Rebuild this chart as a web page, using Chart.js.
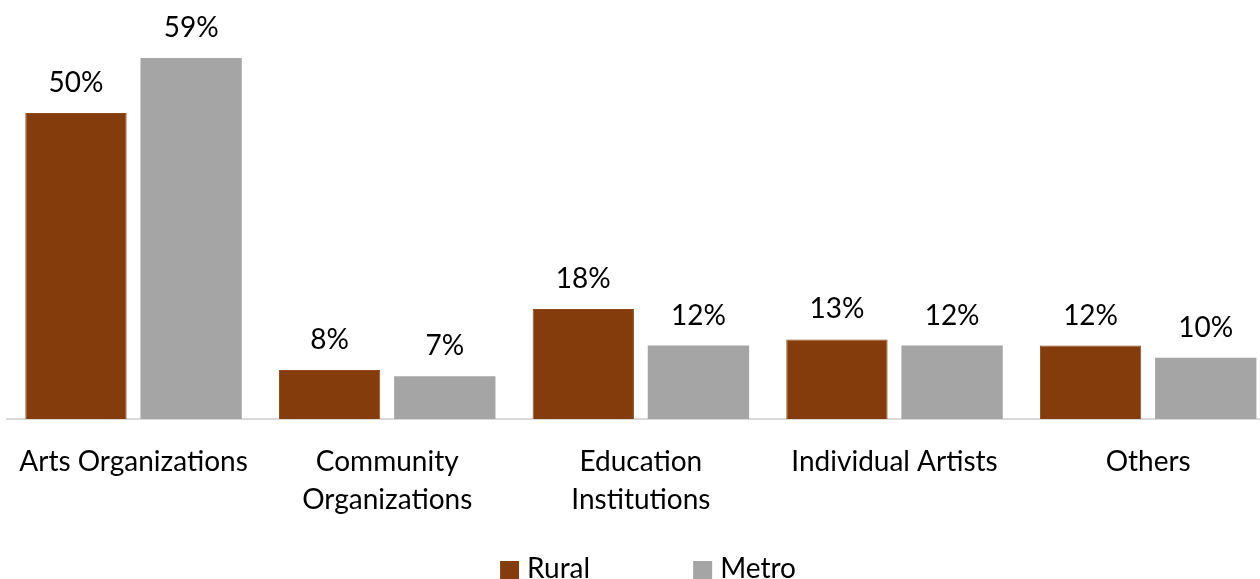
<!DOCTYPE html>
<html>
<head>
<meta charset="utf-8">
<script src="https://cdn.jsdelivr.net/npm/chart.js@4.4.1/dist/chart.umd.min.js"></script>
<style>
  html, body { margin: 0; padding: 0; background: #fff; }
  .frame { width: 1260px; height: 579px; overflow: hidden; position: relative; }
  .box { width: 1280px; height: 579px; position: absolute; left: -5px; top: 0; }
</style>
</head>
<body>
<div class="frame">
  <div class="box"><canvas id="myChart"></canvas></div>
</div>
<script>
const categories = [
  'Arts Organizations',
  ['Community', 'Organizations'],
  ['Education', 'Institutions'],
  'Individual Artists',
  'Others'
]
const rural = [50, 8, 18, 13, 12]
const metro = [59, 7, 12, 12, 10]

const FONT = 'Lato, "Liberation Sans", sans-serif'
const RURAL_COLOR = '#843C0C'
const METRO_COLOR = '#A5A5A5'

// percent labels above every bar
const barLabels = {
  id: 'barLabels',
  afterDatasetsDraw (chart) {
    const { ctx } = chart
    ctx.save()
    ctx.font = '28px ' + FONT
    ctx.fillStyle = '#000'
    ctx.textAlign = 'center'
    ctx.textBaseline = 'alphabetic'
    chart.data.datasets.forEach((ds, i) => {
      chart.getDatasetMeta(i).data.forEach((bar, j) => {
        ctx.fillText(ds.data[j] + '%', bar.x, bar.y - 21)
      })
    })
    ctx.restore()
  }
}

// legend along the bottom edge, box + name for each series
const bottomLegend = {
  id: 'bottomLegend',
  afterDraw (chart) {
    const { ctx } = chart
    const gap = 8
    const spacing = 103
    const box = 19
    ctx.save()
    ctx.font = '28px ' + FONT
    ctx.textBaseline = 'alphabetic'
    ctx.textAlign = 'left'
    const items = chart.data.datasets.map(ds => ({
      label: ds.label,
      color: ds.backgroundColor,
      w: box + gap + ctx.measureText(ds.label).width
    }))
    const total = items.reduce((s, it) => s + it.w, 0) + spacing * (items.length - 1)
    let x = 653 - total / 2
    const base = 578
    items.forEach(it => {
      ctx.fillStyle = it.color
      ctx.fillRect(x, base - 17, box, box + 4)
      ctx.fillStyle = '#000'
      ctx.fillText(it.label, x + box + gap, base)
      x += it.w + spacing
    })
    ctx.restore()
  }
}

const ctx = document.getElementById('myChart')

new Chart(ctx, {
  type: 'bar',
  data: {
    labels: categories,
    datasets: [{
      label: 'Rural',
      data: rural,
      backgroundColor: RURAL_COLOR,
      borderColor: '#8f4a1c',
      borderWidth: 1,
      categoryPercentage: 0.908,
      barPercentage: 0.88
    }, {
      label: 'Metro',
      data: metro,
      backgroundColor: METRO_COLOR,
      borderWidth: 0,
      categoryPercentage: 0.908,
      barPercentage: 0.88
    }]
  },
  options: {
    responsive: true,
    maintainAspectRatio: false,
    animation: false,
    layout: {
      padding: { top: 3, left: 3, right: 0, bottom: 36 }
    },
    plugins: {
      tooltip: { enabled: false },
      legend: { display: false }
    },
    scales: {
      x: {
        grid: { display: false, drawTicks: false },
        border: { display: true, color: '#d9d9d9', width: 2 },
        ticks: {
          color: '#000',
          font: { family: FONT, size: 28, lineHeight: 1.357 },
          padding: 24,
          maxRotation: 0,
          autoSkip: false
        }
      },
      y: {
        display: false,
        min: 0,
        max: 68
      }
    }
  },
  plugins: [barLabels, bottomLegend]
})
</script>
</body>
</html>
